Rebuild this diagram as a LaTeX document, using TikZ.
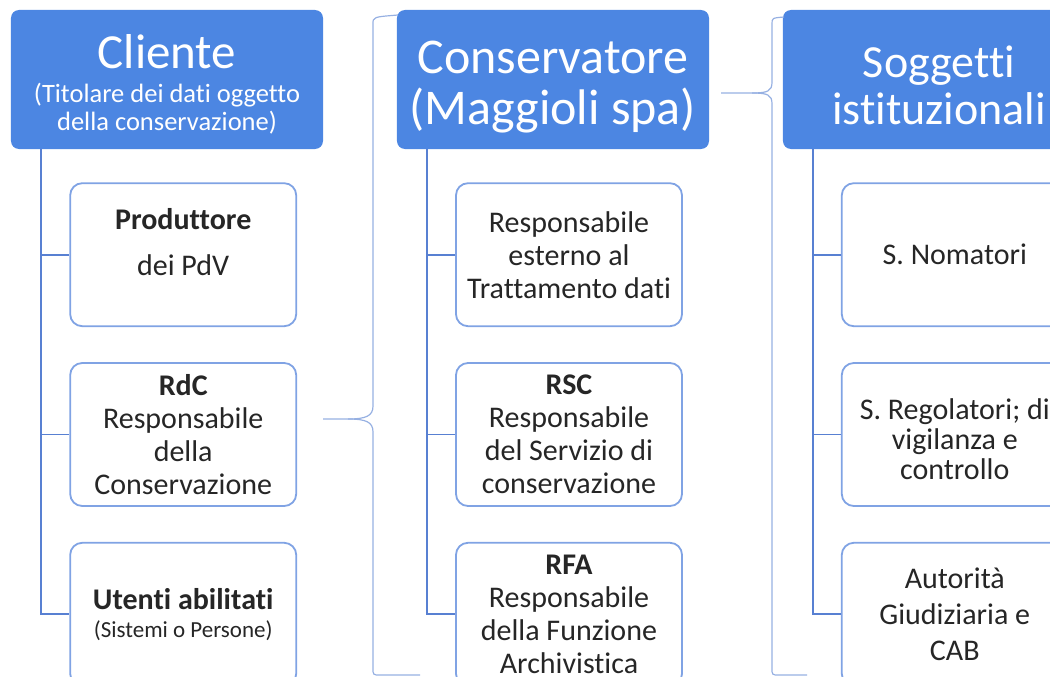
\documentclass[tikz,border=0pt]{standalone}
\usepackage{fontspec}
\setmainfont{Carlito}[Ligatures=NoCommon]
\definecolor{headblue}{RGB}{76,134,226}
\definecolor{boxline}{RGB}{128,163,228}
\definecolor{trunk}{RGB}{88,128,210}
\definecolor{bracecol}{RGB}{150,176,226}

\begin{document}
\begin{tikzpicture}[x=1pt,y=-1pt]
    \tikzstyle{head} = [fill=headblue, draw=none, rounded corners=8pt, text=white, align=center, minimum width=312pt, minimum height=139pt, inner sep=2pt]
    \tikzstyle{child} = [draw=boxline, line width=1.8pt, rounded corners=12pt, fill=white, align=center, minimum width=226pt, minimum height=143pt, text=black!85, font=\fontsize{30}{33}\selectfont, inner sep=2pt]
    \tikzstyle{trunkline} = [draw=trunk, line width=1.8pt]
    \tikzstyle{brace} = [draw=bracecol, line width=1.2pt]

    \useasboundingbox (0,0) rectangle (1050,677);
    \clip (0,0) rectangle (1050,677);

    \matrix[nodes={head}, column sep=74pt] at (553,79.5) {
    \node[font=\fontsize{26.5}{28}\selectfont] (1) {\rule{0pt}{44pt}\fontsize{49}{50}\selectfont Cliente\\[6pt](Titolare dei dati oggetto\\della conservazione)}; &
    \node[font=\fontsize{50}{51}\selectfont] (2) {\rule{0pt}{48pt}Conservatore\\(Maggioli spa)}; &
    \node[font=\fontsize{46}{47}\selectfont] (3) {\rule{0pt}{44pt}Soggetti\\istituzionali}; \\
    };

    \matrix[nodes={child}, row sep=35pt, column sep=158pt] at (569,434.5) {
    \node (4) {\textbf{Produttore}\\[13pt]dei PdV\\[-8pt]~}; &
    \node (5) {Responsabile\\esterno al\\Trattamento dati}; &
    \node (6) {S. Nomatori}; \\
    \node (7) {\textbf{RdC}\\Responsabile\\della\\Conservazione}; &
    \node (8) {\textbf{RSC}\\Responsabile\\del Servizio di\\conservazione}; &
    \node (9) {\rule{0pt}{30pt}S. Regolatori; di\\[-3pt]vigilanza e\\[-3pt]controllo}; \\
    \node (10) {\textbf{Utenti abilitati}\\[-5pt]\fontsize{23}{28}\selectfont (Sistemi o Persone)}; &
    \node (11) {\textbf{RFA}\\Responsabile\\della Funzione\\Archivistica}; &
    \node (12) {Autorità\\[3pt]Giudiziaria e\\[3pt]CAB}; \\
    };

    % trunks
    \coordinate (t1) at ([xshift=30pt]1.south west);
    \coordinate (t2) at ([xshift=30pt]2.south west);
    \coordinate (t3) at ([xshift=30pt]3.south west);
    \draw[trunkline] (t1) |- (10.west);
    \draw[trunkline] (4.west) -- (4.west -| t1);
    \draw[trunkline] (7.west) -- (7.west -| t1);
    \draw[trunkline] (t2) |- (11.west);
    \draw[trunkline] (5.west) -- (5.west -| t2);
    \draw[trunkline] (8.west) -- (8.west -| t2);
    \draw[trunkline] (t3) |- (12.west);
    \draw[trunkline] (6.west) -- (6.west -| t3);
    \draw[trunkline] (9.west) -- (9.west -| t3);

    % braces
    \coordinate (b1) at (348,419);
    \coordinate (b2) at (752,93);
    \draw[brace] (1.east |- b1) -- (b1) .. controls +(18,0) and +(0,10) .. (373,406)
        -- (373,24) .. controls (373,17) .. (398,15);
    \draw[brace] (b1) .. controls +(18,0) and +(0,-10) .. (373,432)
        -- (373,668) .. controls (373,675) .. (380,675) -- (420,675);
    \draw[brace] ([xshift=12pt]2.east |- b2) -- (b2) .. controls +(16,0) and +(0,9) .. (772,82)
        -- (772,24) .. controls (772,18) .. (784,17);
    \draw[brace] (b2) .. controls +(16,0) and +(0,-9) .. (772,104)
        -- (772,668) .. controls (772,675) .. (779,675) -- (807,675);
\end{tikzpicture}
\end{document}
